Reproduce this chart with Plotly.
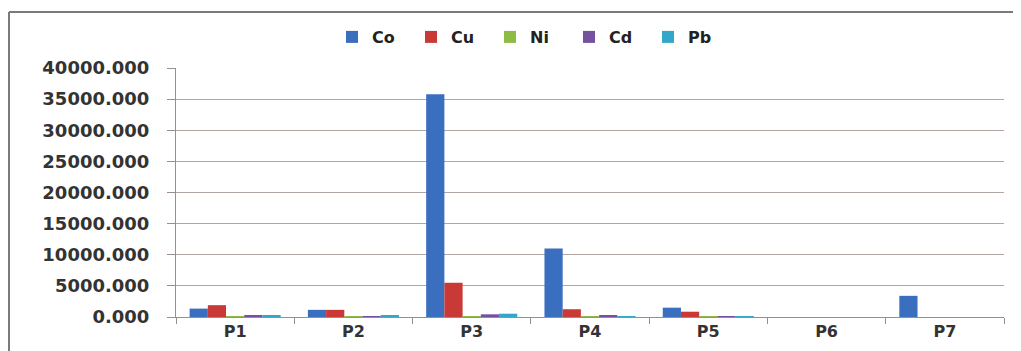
import plotly.graph_objects as go

categories = ["P1", "P2", "P3", "P4", "P5", "P6", "P7"]
co = [1350, 1150, 35800, 11000, 1500, 0, 3400]
cu = [1900, 1150, 5500, 1250, 850, 0, 0]
ni = [20, 10, 60, 100, 10, 0, 0]
cd = [280, 20, 430, 250, 20, 0, 0]
pb = [170, 170, 530, 150, 150, 0, 0]
tick_vals = [0, 5000, 10000, 15000, 20000, 25000, 30000, 35000, 40000]
tick_text = [f"{v:.3f}" for v in tick_vals]

series = [("Co", co, "#3A6FC0"), ("Cu", cu, "#C93A36"), ("Ni", ni, "#8DBB45"),
          ("Cd", cd, "#7452A0"), ("Pb", pb, "#33A7C9")]

fig = go.Figure()
for name, vals, col in series:
    fig.add_trace(go.Bar(x=categories, y=vals, name=name, marker_color=col,
                         marker_line_width=0))

# page has an 8px body margin; work in page pixels and convert
OFF = 8
PW, PH = 1021, 351
W, H = PW - OFF, PH - OFF
pl, pr, pt, pb_ = 176, 1004, 68, 317  # plot area in page pixels
L, R, T, B = pl - OFF, W - (pr - OFF), pt - OFF, H - (pb_ - OFF)
pw, ph = W - L - R, H - T - B

def px_x(x):
    return (x - OFF - L) / pw

def px_y(y):
    return (H - B - (y - OFF)) / ph

fig.update_layout(
    width=W, height=H,
    margin=dict(l=L, r=R, t=T, b=B, autoexpand=False),
    paper_bgcolor="white", plot_bgcolor="white",
    barmode="group", bargap=0.23, bargroupgap=0,
    font=dict(family="DejaVu Sans", color="#333333", size=15),
    legend=dict(orientation="h", x=px_x(332), xanchor="left", y=px_y(37), yanchor="middle",
                font=dict(size=16, color="#222222", weight="bold"), entrywidth=34,
                entrywidthmode="pixels", traceorder="normal", itemwidth=30),
    xaxis=dict(showline=True, linecolor="#9a8e88", linewidth=1, ticks="outside",
               tickcolor="#9a8e88", ticklen=6, tickson="boundaries",
               tickfont=dict(size=16, weight="bold"), showgrid=False),
    yaxis=dict(range=[0, 40000], tickvals=tick_vals, ticktext=tick_text,
               showline=True, linecolor="#9a8e88", linewidth=1, ticks="outside",
               tickcolor="#9a8e88", ticklen=8, gridcolor="#b0a7a2", gridwidth=1,
               tickfont=dict(size=18, weight="bold"), zeroline=False,
               ticklabelstandoff=14),
    shapes=[
        dict(type="line", xref="paper", yref="paper", x0=px_x(9), x1=px_x(9),
             y0=px_y(12), y1=px_y(360), line=dict(color="#7a7a7a", width=2)),
        dict(type="line", xref="paper", yref="paper", x0=px_x(9), x1=px_x(1030),
             y0=px_y(12), y1=px_y(12), line=dict(color="#7a7a7a", width=2)),
    ],
)
fig.write_html("out.html")
